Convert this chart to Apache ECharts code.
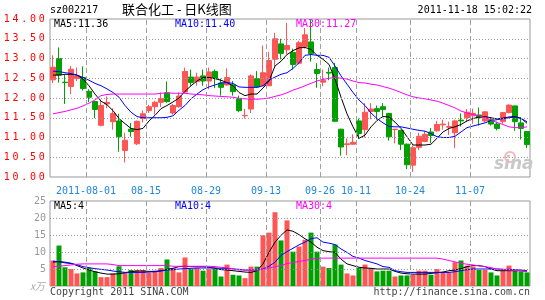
<!DOCTYPE html>
<html>
<head>
<meta charset="utf-8">
<script src="https://cdn.jsdelivr.net/npm/echarts@6/dist/echarts.min.js"></script>
<style>
html,body{margin:0;padding:0;background:#fff;}
#c{width:545px;height:300px;}
</style>
</head>
<body>
<div id="c"></div>
<script>
// ---- data ----
const dates = ['07-22','07-25','07-26','07-27','07-28','07-29',
'08-01','08-02','08-03','08-04','08-05','08-08','08-09','08-10','08-11','08-12',
'08-15','08-16','08-17','08-18','08-19','08-22','08-23','08-24','08-25','08-26',
'08-29','08-30','08-31','09-01','09-02','09-05','09-06','09-07','09-08','09-09',
'09-13','09-14','09-15','09-16','09-19','09-20','09-21','09-22','09-23',
'09-26','09-27','09-28','09-29','09-30','10-10',
'10-11','10-12','10-13','10-14','10-17','10-18','10-19','10-20','10-21',
'10-24','10-25','10-26','10-27','10-28','10-31','11-01','11-02','11-03','11-04',
'11-07','11-08','11-09','11-10','11-11','11-14','11-15','11-16','11-17','11-18'];
const xTickLabels = ['2011-08-01','08-15','08-29','09-13','09-26','10-11','10-24','11-07'];
const priceTicks = [10,10.5,11,11.5,12,12.5,13,13.5,14];
const volTicks = [0,5,10,15,20,25];

const open = [12.46,13.00,12.40,12.29,12.49,12.52,12.17,11.91,11.31,11.85,
11.40,11.42,10.67,11.21,10.84,11.48,11.68,11.78,11.89,12.13,
11.62,11.78,12.15,12.53,12.42,12.56,12.43,12.67,12.38,12.33,
12.33,11.99,11.55,11.72,12.49,12.31,12.31,12.98,13.37,13.22,
13.15,12.88,13.30,13.42,12.72,12.40,12.65,12.77,11.21,10.82,
10.83,11.42,11.20,11.66,11.73,11.78,11.61,11.20,11.18,10.83,
10.30,10.75,10.90,11.14,11.17,11.32,11.26,11.12,11.44,11.50,
11.55,11.57,11.42,11.45,11.34,11.40,11.63,11.80,11.37,11.15];
const close = [12.78,12.58,12.39,12.73,12.56,12.24,12.02,11.71,11.81,11.89,
11.61,11.02,10.93,11.15,11.41,11.60,11.78,11.89,11.99,11.91,
11.81,12.05,12.67,12.39,12.53,12.43,12.66,12.50,12.27,12.52,
12.16,11.68,11.56,12.56,12.28,12.64,12.95,13.50,13.13,13.33,
12.85,13.40,13.60,13.12,12.62,12.45,12.63,11.41,10.76,10.84,
10.88,11.10,11.64,11.72,11.66,11.71,11.02,11.21,10.83,10.31,
10.74,11.03,11.08,11.05,11.33,11.34,11.28,11.42,11.42,11.64,
11.61,11.50,11.65,11.34,11.23,11.63,11.82,11.40,11.23,10.82];
const high = [13.08,13.28,12.58,12.81,12.77,12.80,12.22,11.92,11.96,12.04,
11.74,11.60,11.12,11.37,11.43,11.68,11.83,11.93,12.14,12.42,
11.85,12.14,12.77,12.72,12.64,12.72,12.77,12.72,12.49,12.75,
12.43,12.06,11.72,12.60,12.68,13.33,13.17,13.65,13.50,13.90,
13.25,13.45,13.77,14.00,12.88,12.72,12.77,12.89,11.22,10.98,
11.08,11.48,11.87,11.87,11.81,11.87,11.62,11.22,11.20,10.85,
10.80,11.12,11.16,11.24,11.42,11.45,11.40,11.45,11.61,11.72,
11.73,11.76,11.66,11.51,11.40,11.65,11.84,11.80,11.51,11.15];
const low = [12.38,12.39,11.85,12.10,12.43,12.19,11.90,11.49,11.28,11.74,
11.20,10.64,10.37,11.02,10.81,11.38,11.62,11.58,11.77,11.88,
11.58,11.75,12.12,12.31,12.31,12.31,12.22,12.25,12.06,12.31,
12.06,11.64,11.48,11.62,12.25,12.31,12.31,12.81,12.98,13.10,
12.72,12.85,13.25,12.92,12.26,12.30,12.45,11.40,10.54,10.55,
10.82,10.96,11.00,11.46,11.45,11.53,10.92,10.85,10.68,10.20,
10.13,10.68,10.88,10.86,11.15,11.20,11.06,10.73,11.28,11.39,
11.35,11.30,11.38,11.30,11.18,11.35,11.61,11.17,10.95,10.73];

const ma5 = [12.58,12.58,12.60,12.60,12.58,12.48,12.31,12.10,11.92,11.83,
11.68,11.48,11.35,11.23,11.20,11.23,11.42,11.56,11.73,11.81,
11.90,12.00,12.17,12.31,12.43,12.52,12.52,12.49,12.45,12.39,
12.31,12.14,12.06,12.10,12.10,12.25,12.43,12.81,12.93,13.10,
13.20,13.27,13.28,13.23,13.08,12.98,12.85,12.48,12.02,11.60,
11.27,10.98,11.06,11.27,11.43,11.53,11.52,11.39,11.23,11.02,
10.81,10.81,10.81,10.83,10.98,11.14,11.23,11.27,11.33,11.42,
11.48,11.52,11.53,11.50,11.47,11.49,11.52,11.53,11.49,11.36];
const ma10 = [12.68,12.67,12.64,12.62,12.58,12.52,12.45,12.37,12.31,12.23,
12.14,12.02,11.81,11.64,11.53,11.50,11.50,11.50,11.50,11.51,
11.55,11.69,11.81,11.98,12.10,12.21,12.28,12.33,12.38,12.39,
12.37,12.28,12.27,12.27,12.27,12.31,12.45,12.53,12.60,12.64,
12.75,12.89,13.08,13.10,13.08,13.08,13.03,12.81,12.56,12.35,
12.14,11.95,11.81,11.62,11.48,11.37,11.28,11.27,11.27,11.24,
11.21,11.18,11.16,11.10,11.02,11.00,11.00,11.03,11.14,11.25,
11.29,11.33,11.37,11.43,11.45,11.48,11.50,11.52,11.48,11.40];
const ma30 = [11.60,11.63,11.66,11.70,11.74,11.80,11.87,11.95,12.06,12.09,
12.10,12.10,12.10,12.10,12.10,12.10,12.10,12.10,12.12,12.13,
12.12,12.12,12.12,12.10,12.09,12.08,12.06,12.05,12.04,12.03,
12.02,11.99,11.98,11.97,11.97,11.98,12.00,12.04,12.08,12.13,
12.20,12.25,12.31,12.37,12.43,12.47,12.50,12.52,12.50,12.48,
12.43,12.39,12.38,12.35,12.33,12.29,12.25,12.20,12.14,12.08,
12.03,12.00,11.98,11.95,11.92,11.87,11.81,11.75,11.67,11.62,
11.58,11.55,11.50,11.45,11.38,11.33,11.27,11.25,11.25,11.27];

const volume = [7.5,11.9,5.5,5.0,3.7,4.0,5.3,4.3,2.6,2.6,
3.7,5.8,3.9,4.7,4.7,4.7,3.9,4.5,5.3,7.8,
5.3,4.0,8.4,5.0,5.3,4.5,5.0,5.0,2.8,6.3,
3.3,3.1,2.3,5.7,5.7,14.9,15.7,21.7,13.4,19.3,
10.1,11.6,13.6,15.7,10.1,5.7,5.3,12.2,6.3,3.7,
3.1,5.3,6.3,5.3,4.3,4.5,4.5,2.8,3.1,3.1,
3.3,4.5,4.5,3.3,5.0,4.0,4.0,7.0,7.5,6.0,
5.7,4.7,4.7,4.0,3.1,4.5,6.0,4.5,4.3,4.0];
const vma5 = [7.0,7.2,7.0,6.7,6.0,5.3,4.7,4.2,3.8,3.5,
3.5,3.6,3.9,4.2,4.4,4.4,4.3,4.3,4.5,4.9,
5.2,5.7,5.8,5.7,5.7,5.7,5.5,5.2,4.8,4.7,
4.5,4.3,4.1,4.0,4.5,6.5,9.9,12.9,14.9,16.5,
16.1,15.1,13.9,12.9,11.4,10.4,10.1,9.9,7.9,6.5,
6.0,5.5,5.3,5.2,5.0,5.0,5.0,4.3,3.8,3.6,
3.5,3.5,3.5,3.7,3.9,4.1,4.5,4.7,5.1,5.7,
6.0,6.0,5.7,5.0,4.5,4.5,4.5,4.5,4.5,4.3];
const vma10 = [7.3,7.1,6.8,6.6,6.3,5.7,5.4,5.1,4.9,4.7,
4.4,4.2,4.0,4.0,4.0,4.0,4.1,4.2,4.4,4.7,
4.8,5.0,5.1,5.2,5.3,5.3,5.3,5.3,5.2,5.2,
5.0,4.9,4.7,4.7,4.7,5.0,5.8,7.0,9.0,10.1,
11.1,12.1,12.9,13.9,14.2,12.9,12.6,12.2,10.9,9.9,
8.7,8.2,7.5,7.0,6.5,5.7,5.5,4.5,4.2,4.0,
4.0,4.0,4.0,4.0,4.0,4.0,4.0,4.2,4.5,4.8,
5.0,5.0,5.0,5.0,5.0,4.9,4.9,4.8,4.7,4.5];
const vma30 = [5.7,5.8,6.0,6.2,6.4,6.5,6.5,6.5,6.5,6.5,
6.3,6.0,6.0,6.0,6.0,6.0,6.0,6.0,6.0,6.0,
5.8,5.8,5.8,5.8,5.8,5.8,5.8,5.7,5.5,5.3,
5.1,4.7,4.7,4.7,4.7,4.9,5.3,5.7,6.0,6.6,
6.9,7.2,7.5,7.9,8.1,8.2,8.2,8.2,8.2,8.2,
8.2,8.2,8.2,8.2,8.2,8.2,8.2,8.2,8.2,8.2,
8.2,8.2,8.2,8.2,8.2,7.9,7.5,7.1,6.7,6.4,
6.2,5.9,5.7,5.4,5.0,4.9,4.7,4.6,4.5,4.3];

// ---- chart ----
const UP = '#ff5555', DOWN = '#00a000';
const MONO = '"DejaVu Sans Mono", "Liberation Mono", monospace';
const isTick = (i, v) => xTickLabels.indexOf(v) >= 0 || xTickLabels.indexOf('2011-' + v) >= 0;
const tickText = v => xTickLabels.indexOf('2011-' + v) >= 0 ? '2011-' + v : v;
const tickIndex = dates.map((d, i) => isTick(i, d) ? i : -1).filter(i => i >= 0);

const candles = dates.map((d, i) => [open[i], close[i], low[i], high[i]]);
const volBars = volume.map((v, i) => ({ value: v, itemStyle: { color: close[i] >= open[i] ? UP : DOWN } }));

const dotted = { color: '#999999', type: [1, 2], width: 1 };
const dashed = { color: '#a0a0a0', type: [5, 3], width: 1 };
function guides(yVals, xIdx) {
  return { symbol: 'none', silent: true, animation: false, label: { show: false }, emphasis: { disabled: true },
    data: yVals.map(v => ({ yAxis: v, lineStyle: dotted })).concat(xIdx.map(i => ({ xAxis: i, lineStyle: dashed }))) };
}

const chart = echarts.init(document.getElementById('c'), null, { renderer: 'canvas' });
const option = {
  animation: false,
  backgroundColor: '#ffffff',
  grid: [
    { left: 50, top: 19, width: 480, height: 158, show: true, borderColor: '#999999', borderWidth: 1 },
    { left: 50, top: 201, width: 480, height: 85, show: true, borderColor: '#999999', borderWidth: 1 }
  ],
  xAxis: [
    { type: 'category', gridIndex: 0, data: dates, boundaryGap: true,
      axisLine: { show: false }, axisTick: { show: false },
      axisLabel: { interval: isTick, formatter: tickText, color: '#2288dd', fontSize: 10,
        fontFamily: MONO, margin: 9, padding: [0, 6, 0, 0] },
      splitLine: { show: false } },
    { type: 'category', gridIndex: 1, data: dates, boundaryGap: true,
      axisLine: { show: false }, axisTick: { show: false }, axisLabel: { show: false }, splitLine: { show: false } },
    { type: 'value', gridIndex: 0, min: 0, max: dates.length, show: false },
    { type: 'value', gridIndex: 1, min: 0, max: dates.length, show: false }
  ],
  yAxis: [
    { type: 'value', gridIndex: 0, min: priceTicks[0], max: priceTicks[priceTicks.length - 1], interval: 0.5,
      axisLine: { show: false }, axisTick: { show: false },
      axisLabel: { margin: 4,
        formatter: v => v.toFixed(2).split('').map(ch => '{c|' + ch + '}').join(''),
        rich: { c: { width: 8.7, align: 'center', color: '#ff0000', fontSize: 10, fontFamily: MONO } } },
      splitLine: { show: false } },
    { type: 'value', gridIndex: 1, min: volTicks[0], max: volTicks[volTicks.length - 1], interval: 5,
      axisLine: { show: false }, axisTick: { show: false },
      axisLabel: { margin: 4, color: '#999999', fontSize: 10, fontFamily: MONO,
        formatter: v => v === 0 ? '' : String(v) },
      splitLine: { show: false } }
  ],
  series: [
    { type: 'line', xAxisIndex: 2, yAxisIndex: 0, data: [], z: 1, markLine: guides(priceTicks.slice(1, -1), tickIndex) },
    { type: 'line', xAxisIndex: 3, yAxisIndex: 1, data: [], z: 1, markLine: guides(volTicks.slice(1, -1), tickIndex) },
    { type: 'candlestick', xAxisIndex: 0, yAxisIndex: 0, data: candles, barWidth: 5, z: 3,
      itemStyle: { color: UP, color0: DOWN, borderColor: UP, borderColor0: DOWN, borderWidth: 1 } },
    { type: 'line', xAxisIndex: 0, yAxisIndex: 0, data: ma5, symbol: 'none', z: 4, lineStyle: { color: '#000000', width: 1 }, silent: true },
    { type: 'line', xAxisIndex: 0, yAxisIndex: 0, data: ma10, symbol: 'none', z: 4, lineStyle: { color: '#0000ff', width: 1 }, silent: true },
    { type: 'line', xAxisIndex: 0, yAxisIndex: 0, data: ma30, symbol: 'none', z: 4, lineStyle: { color: '#ff00ff', width: 1 }, silent: true },
    { type: 'bar', xAxisIndex: 1, yAxisIndex: 1, data: volBars, barWidth: 5, z: 3 },
    { type: 'line', xAxisIndex: 1, yAxisIndex: 1, data: vma5, symbol: 'none', z: 4, lineStyle: { color: '#000000', width: 1 }, silent: true },
    { type: 'line', xAxisIndex: 1, yAxisIndex: 1, data: vma10, symbol: 'none', z: 4, lineStyle: { color: '#0000ff', width: 1 }, silent: true },
    { type: 'line', xAxisIndex: 1, yAxisIndex: 1, data: vma30, symbol: 'none', z: 4, lineStyle: { color: '#ff00ff', width: 1 }, silent: true }
  ],
  graphic: [
    { type: 'text', left: 50, top: 5, z: 100, style: { text: 'sz002217', font: '10px ' + MONO, fill: '#000' } },
    { type: 'text', left: 122, top: 3, z: 100, style: { text: '联合化工 - 日K线图', font: '13px "Noto Sans CJK SC"', fill: '#000' } },
    { type: 'text', right: 13, top: 5, z: 100, style: { text: '2011-11-18 15:02:22', font: '10px ' + MONO, fill: '#000' } },
    { type: 'text', left: 54, top: 19, z: 100, style: { text: 'MA5:11.36', font: '10px ' + MONO, fill: '#000000' } },
    { type: 'text', left: 175, top: 19, z: 100, style: { text: 'MA10:11.40', font: '10px ' + MONO, fill: '#0000ff' } },
    { type: 'text', left: 296, top: 19, z: 100, style: { text: 'MA30:11.27', font: '10px ' + MONO, fill: '#ff00ff' } },
    { type: 'text', left: 54, top: 201, z: 100, style: { text: 'MA5:4', font: '10px ' + MONO, fill: '#000000' } },
    { type: 'text', left: 175, top: 201, z: 100, style: { text: 'MA10:4', font: '10px ' + MONO, fill: '#0000ff' } },
    { type: 'text', left: 296, top: 201, z: 100, style: { text: 'MA30:4', font: '10px ' + MONO, fill: '#ff00ff' } },
    { type: 'text', left: 30, top: 281, z: 100, style: { text: 'x万', font: 'italic 10px "Noto Sans CJK SC"', fill: '#aaaaaa' } },
    { type: 'text', left: 50, top: 287, z: 100, style: { text: 'Copyright 2011 SINA.COM', font: '10px ' + MONO, fill: '#444444' } },
    { type: 'text', right: 15, top: 287, z: 100, style: { text: 'http://finance.sina.com.cn', font: '10px ' + MONO, fill: '#444444' } },
    { type: 'circle', z: 90, shape: { cx: 510, cy: 157, r: 5 }, style: { fill: 'none', stroke: '#f2b8b8', lineWidth: 2 } },
    { type: 'text', left: 494, top: 156, z: 90, style: { text: 'sina', font: 'italic bold 17px "DejaVu Sans"', fill: '#c8c8c8' } }
  ]
};
chart.setOption(option);
</script>
</body>
</html>
